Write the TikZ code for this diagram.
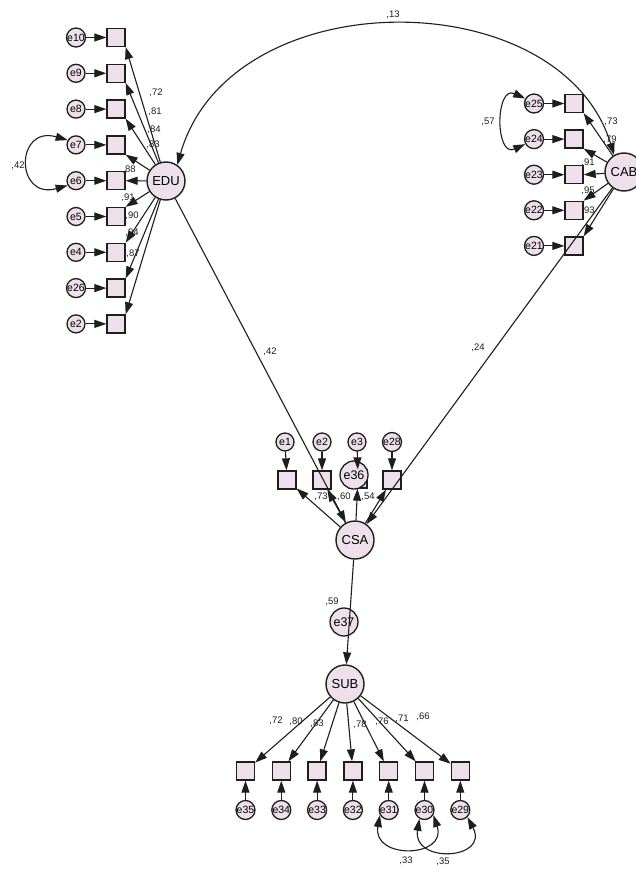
\documentclass[tikz,border=0pt]{standalone}
\usepackage{fontspec}
\setmainfont{Liberation Sans}
\usetikzlibrary{arrows.meta}
\definecolor{nfill}{RGB}{238,224,234}
\definecolor{ln}{RGB}{30,30,30}
\begin{document}
\begin{tikzpicture}[x=1pt,y=-1pt,
  lat/.style={circle,draw=ln,line width=1.4pt,fill=nfill,minimum size=38pt,inner sep=0pt,font=\fontsize{13}{14}\selectfont},
  err/.style={circle,draw=ln,line width=1.3pt,fill=nfill,minimum size=18pt,inner sep=0pt,font=\fontsize{10.5}{11}\selectfont},
  bigerr/.style={err,minimum size=28pt,font=\fontsize{12.5}{13}\selectfont},
  obs/.style={rectangle,draw=ln,line width=1.3pt,fill=nfill,minimum size=18pt,inner sep=0pt},
  arr/.style={draw=ln,line width=1.1pt,-{Triangle[length=12pt,width=8pt]}},
  cov/.style={draw=ln,line width=1.1pt,{Triangle[length=12pt,width=8pt]}-{Triangle[length=12pt,width=8pt]}},
  lbl/.style={font=\fontsize{9.5}{10}\selectfont,text=ln,inner sep=0pt}]
\useasboundingbox (0,0) rectangle (635,869);
\fill[white] (0,0) rectangle (635,869);

% ---------- EDU cluster ----------
\node[lat] (EDU) at (166,181) {EDU};
\foreach \lab [count=\k] in {e10,e9,e8,e7,e6,e5,e4,e26,e2}{
  \pgfmathsetmacro{\yy}{37.5+35.8*(\k-1)}
  \node[obs] (es\k) at (116,\yy) {};
  \node[err] (ee\k) at (76,\yy) {\lab};
}
% ---------- CAB cluster ----------
\node[lat] (CAB) at (624,172) {CAB};
\foreach \lab [count=\k] in {e25,e24,e23,e22,e21}{
  \pgfmathsetmacro{\yy}{103.5+35.6*(\k-1)}
  \node[obs] (cs\k) at (574,\yy) {};
  \node[err] (ce\k) at (534,\yy) {\lab};
}
% ---------- CSA cluster ----------
\node[lat] (CSA) at (355,540) {CSA};
\node[obs] (ks1) at (287,480) {};
\node[obs] (ks2) at (322,480) {};
\node[obs] (ks3) at (358,479) {};
\node[obs] (ks4) at (392,480) {};
\node[err] (ke1) at (285,442) {e1};
\node[err] (ke2) at (322,442) {e2};
\node[err] (ke3) at (357,442) {e3};
\node[err] (ke4) at (392,442) {e28};
\node[bigerr] (e36) at (354,475) {e36};
% ---------- SUB cluster ----------
\node[lat] (SUB) at (345,684) {SUB};
\node[bigerr] (e37) at (344,622) {e37};
\foreach \lab [count=\k] in {e35,e34,e33,e32,e31,e30,e29}{
  \pgfmathsetmacro{\xx}{245.5+35.8*(\k-1)}
  \node[obs] (ss\k) at (\xx,771) {};
  \node[err] (se\k) at (\xx,810) {\lab};
}

% ---------- connectors ----------
\foreach \k in {1,...,9}{ \draw[arr] (ee\k) -- (es\k); }
\foreach \k in {1,...,4}{ \draw[arr] (EDU) -- (es\k.south east); }
\draw[arr] (EDU) -- (es5.east);
\foreach \k in {6,...,9}{ \draw[arr] (EDU) -- (es\k.north east); }

\foreach \k in {1,...,5}{ \draw[arr] (ce\k) -- (cs\k); }
\foreach \k in {1,2}{ \draw[arr] (CAB) -- (cs\k.south east); }
\draw[arr] (CAB) -- (cs3.east);
\foreach \k in {4,5}{ \draw[arr] (CAB) -- (cs\k.north east); }

\foreach \k in {1,...,4}{ \draw[arr] (ke\k) -- (ks\k); }
\foreach \k in {1,...,4}{ \draw[arr] (CSA) -- (ks\k); }

\draw[arr] (EDU) -- (CSA);
\draw[arr] (CAB) -- (CSA);
\draw[arr] (CSA) -- (SUB);

\foreach \k in {1,...,7}{ \draw[arr] (se\k) -- (ss\k); \draw[arr] (SUB) -- (ss\k); }

% covariances
\draw[cov] (CAB.120) .. controls (560,-20) and (230,-20) .. (EDU.55);
\draw[cov] (ee4.150) .. controls (15,125) and (15,200) .. (ee5.210);
\draw[cov] (ce1.150) .. controls (495,85) and (495,158) .. (ce2.210);
\draw[cov] (se5.210) .. controls (372,860) and (448,858) .. (se6.330);
\draw[cov] (se6.240) .. controls (412,864) and (490,860) .. (se7.315);

% ---------- labels ----------
\node[lbl] (l13) at (393,15) {,13};
\node[lbl] (l42) at (18,166) {,42};
\node[lbl] (l57) at (488,122) {,57};
\node[lbl] at (156,93) {,72};
\node[lbl] at (155,112) {,81};
\node[lbl] at (154,130) {,84};
\node[lbl] at (153,145) {,83};
\node[lbl] at (129,170) {,88};
\node[lbl] at (128,198) {,91};
\node[lbl] at (132,216) {,90};
\node[lbl] at (132,233) {,94};
\node[lbl] at (133,254) {,87};
\node[lbl] at (611,122) {,73};
\node[lbl] at (610,140) {,79};
\node[lbl] at (588,163) {,91};
\node[lbl] at (588,191) {,95};
\node[lbl] at (588,211) {,93};
\node[lbl] at (321,497) {,73};
\node[lbl] at (344,497) {,60};
\node[lbl] at (368,497) {,54};
\node[lbl] at (270,352) {,42};
\node[lbl] at (478,348) {,24};
\node[lbl] at (332,602) {,59};
\node[lbl] at (276,721) {,72};
\node[lbl] at (296,722) {,80};
\node[lbl] at (317,724) {,83};
\node[lbl] at (360,725) {,78};
\node[lbl] at (382,722) {,76};
\node[lbl] at (402,719) {,71};
\node[lbl] at (423,717) {,66};
\node[lbl] at (406,861) {,33};
\node[lbl] at (443,862) {,35};
\end{tikzpicture}
\end{document}
